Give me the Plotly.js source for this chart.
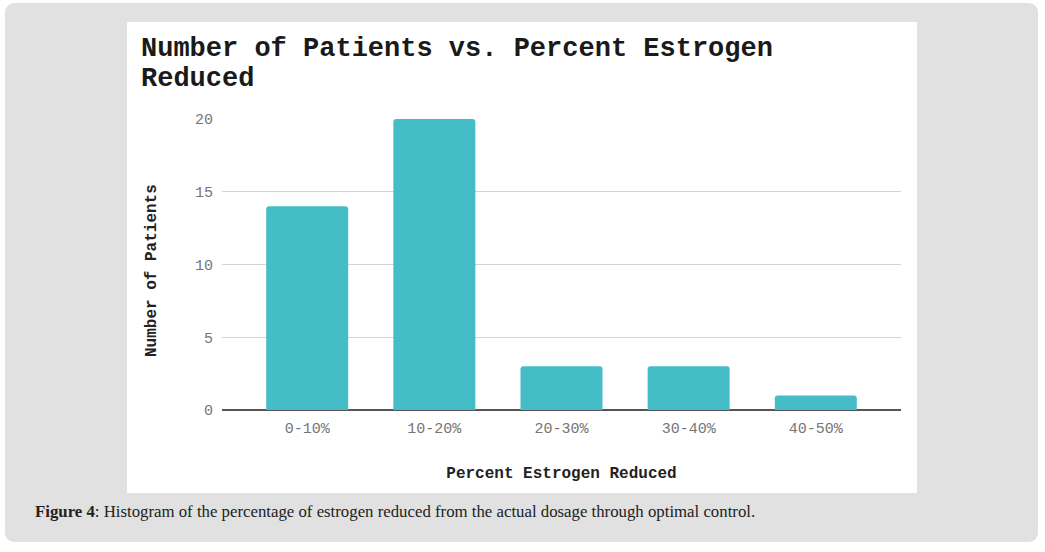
<!DOCTYPE html>
<html>
<head>
<meta charset="utf-8">
<script src="https://cdn.plot.ly/plotly-3.0.1.min.js"></script>
<style>
  html, body { margin: 0; padding: 0; background: #ffffff; }
  #frame {
    position: absolute; left: 5px; top: 3px; width: 1033px; height: 539px;
    background: #e1e1e1; border-radius: 9px;
  }
  #chart {
    position: absolute; left: 127px; top: 22px; width: 790px; height: 471px;
    background: #ffffff;
  }
  #caption {
    position: absolute; left: 35px; top: 502px;
    font-family: "Liberation Serif", "DejaVu Serif", serif; font-size: 16.8px; color: #222;
  }
</style>
</head>
<body>
<div id="frame"></div>
<div id="chart"></div>
<div id="caption"><b>Figure 4</b>: Histogram of the percentage of estrogen reduced from the actual dosage through optimal control.</div>
<script>
// histogram bins and counts
const bins = ['0-10%', '10-20%', '20-30%', '30-40%', '40-50%'];
const patients = [14, 20, 3, 3, 1];
const yTicks = [0, 5, 10, 15, 20];
const titleLines = ['Number of Patients vs. Percent Estrogen', 'Reduced'];

const mono = '"Liberation Mono", "Courier New", monospace';
const W = 790, H = 471;
const M = { l: 95, r: 16, t: 97, b: 83 };
const plotH = H - M.t - M.b;
const plotW = W - M.l - M.r;
// pixel (inside chart div) -> paper coords
const py = p => (H - M.b - p) / plotH;
const px = p => (p - M.l) / plotW;

const trace = {
  type: 'bar',
  x: bins,
  y: patients,
  width: 0.645,
  marker: { color: '#45bdc6', cornerradius: 3 },
  hoverinfo: 'x+y'
};

const titleFont = { family: mono, size: 27, color: '#1a1a1a', weight: 'bold' };
const axisTitleFont = { family: mono, size: 16, color: '#222', weight: 'bold' };

const annotations = [
  { text: titleLines[0], x: px(12), y: py(27), xanchor: 'left', yanchor: 'middle' },
  { text: titleLines[1], x: px(12), y: py(57), xanchor: 'left', yanchor: 'middle' }
].map(a => Object.assign(a, { xref: 'paper', yref: 'paper', showarrow: false, font: titleFont }));

annotations.push({
  text: 'Number of Patients', textangle: -90,
  x: px(25), y: py(249), xref: 'paper', yref: 'paper',
  xanchor: 'center', yanchor: 'middle', showarrow: false, font: axisTitleFont
});

const layout = {
  width: W,
  height: H,
  paper_bgcolor: '#ffffff',
  plot_bgcolor: '#ffffff',
  margin: M,
  showlegend: false,
  annotations: annotations,
  xaxis: {
    type: 'category',
    range: [-0.67, 4.67],
    showgrid: false,
    showline: false,
    zeroline: false,
    ticks: '',
    tickfont: { family: mono, size: 15, color: '#757575' },
    ticklabelstandoff: 7,
    title: {
      text: 'Percent Estrogen Reduced',
      font: axisTitleFont,
      standoff: 29
    }
  },
  yaxis: {
    range: [0, 20],
    tickvals: yTicks,
    showgrid: true,
    gridcolor: '#d4d4d4',
    gridwidth: 1,
    zeroline: true,
    zerolinecolor: '#555',
    zerolinewidth: 2,
    showline: false,
    ticks: '',
    tickfont: { family: mono, size: 15, color: '#757575' },
    ticklabelstandoff: 8
  }
};

Plotly.newPlot('chart', [trace], layout, { displayModeBar: false, staticPlot: true });
</script>
</body>
</html>
